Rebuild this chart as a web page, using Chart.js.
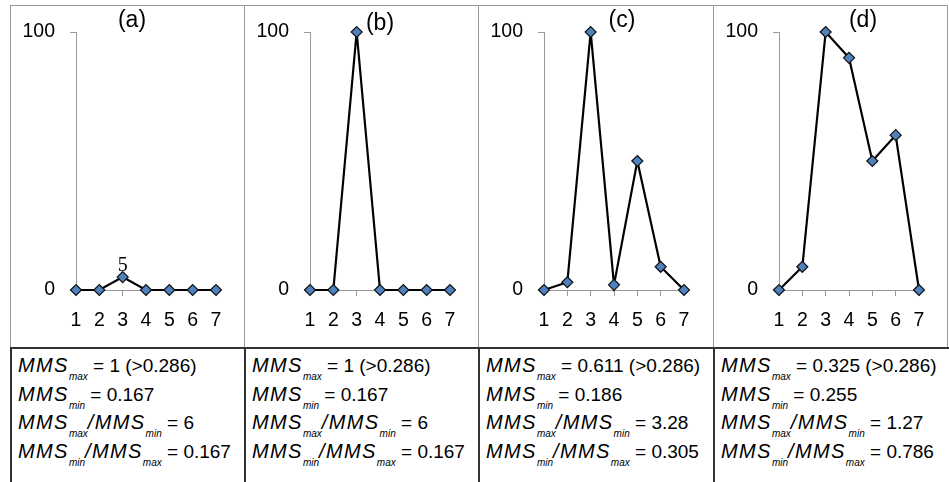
<!DOCTYPE html>
<html>
<head>
<meta charset="utf-8">
<script src="https://cdn.jsdelivr.net/npm/chart.js@4.4.1/dist/chart.umd.min.js"></script>
<style>
  html, body { margin: 0; padding: 0; background: #fff; }
  body { width: 949px; height: 482px; position: relative; overflow: hidden;
         font-family: "Liberation Sans", Arial, sans-serif; color: #000; }
  .panel { position: absolute; top: 5px; width: 234px; height: 343px; }
  .panel canvas { position: absolute; left: 0; top: 0; }
  .rule { position: absolute; z-index: 5; }
  .stats { position: absolute; top: 348px; width: 234px; height: 134px;
           font-size: 19px; line-height: 28.5px; }
  .stats .txt { position: absolute; top: 4px; left: 8px; white-space: nowrap; }
  .mms { font-style: italic; font-size: 20px; letter-spacing: 1.4px; line-height: 0; }
  .sub { font-size: 10px; font-style: italic; position: relative; top: 8px; line-height: 0; }
</style>
</head>
<body>
<script>
// x categories and the four profiles (a)-(d)
const categories = ['1', '2', '3', '4', '5', '6', '7'];
const panelNames = ['(a)', '(b)', '(c)', '(d)'];
const seriesA = [0, 0, 5, 0, 0, 0, 0];
const seriesB = [0, 0, 100, 0, 0, 0, 0];
const seriesC = [0, 3, 100, 2, 50, 9, 0];
const seriesD = [0, 9, 100, 90, 50, 60, 0];
const yTicks = [0, 100];
// points whose value is printed above the marker, per panel
const labelledPoints = [[2], [], [], []];

// statistics printed under each panel
const mmsThreshold = '0.286';
const mmsMax = ['1', '1', '0.611', '0.325'];
const mmsMin = ['0.167', '0.167', '0.186', '0.255'];
const ratioMaxMin = ['6', '6', '3.28', '1.27'];
const ratioMinMax = ['0.167', '0.167', '0.305', '0.786'];

// page layout
const panelLefts = [10, 244, 478, 713];
const panelWidth = 234, panelHeight = 343;
const titlePos = [[122, 16], [136, 19], [144, 16], [150, 16]];
const FONT = '"Liberation Sans", Arial, sans-serif';

const allSeries = [seriesA, seriesB, seriesC, seriesD];

function addRule(x, y, w, h, color) {
  const d = document.createElement('div');
  d.className = 'rule';
  d.style.left = x + 'px'; d.style.top = y + 'px';
  d.style.width = w + 'px'; d.style.height = h + 'px';
  d.style.background = color;
  document.body.appendChild(d);
}

// panel title and value labels
const panelDecor = {
  id: 'panelDecor',
  afterDatasetsDraw(chart, args, opts) {
    const ctx = chart.ctx;
    ctx.save();
    ctx.fillStyle = '#000';
    ctx.font = '23px ' + FONT;
    ctx.textAlign = 'center';
    ctx.textBaseline = 'middle';
    ctx.fillText(opts.title, opts.titleX, opts.titleY);
    const meta = chart.getDatasetMeta(0);
    const values = chart.data.datasets[0].data;
    ctx.font = '20px "Liberation Serif", "Times New Roman", serif';
    ctx.textBaseline = 'alphabetic';
    opts.labelled.forEach(i => {
      const pt = meta.data[i];
      ctx.fillText(String(values[i]), pt.x, pt.y - 6);
    });
    ctx.restore();
  }
};

allSeries.forEach((values, p) => {
  const wrap = document.createElement('div');
  wrap.className = 'panel';
  wrap.style.left = panelLefts[p] + 'px';
  const cv = document.createElement('canvas');
  cv.width = panelWidth; cv.height = panelHeight;
  cv.style.width = panelWidth + 'px'; cv.style.height = panelHeight + 'px';
  wrap.appendChild(cv);
  document.body.appendChild(wrap);

  new Chart(cv, {
    type: 'line',
    data: {
      labels: categories,
      datasets: [{
        data: values,
        borderColor: '#000',
        borderWidth: 2.2,
        tension: 0,
        fill: false,
        clip: false,
        pointStyle: 'rectRot',
        pointRadius: 5.5,
        pointHoverRadius: 5.5,
        pointBackgroundColor: '#4F81BD',
        pointBorderColor: '#111',
        pointBorderWidth: 1.2
      }]
    },
    options: {
      responsive: false,
      animation: false,
      devicePixelRatio: 1,
      events: [],
      layout: { padding: { left: 0, top: 27, right: 28, bottom: 0 } },
      plugins: {
        legend: { display: false },
        tooltip: { enabled: false },
        title: { display: false },
        panelDecor: {
          title: panelNames[p],
          titleX: titlePos[p][0],
          titleY: titlePos[p][1],
          labelled: labelledPoints[p]
        }
      },
      scales: {
        x: {
          type: 'category',
          offset: false,
          grid: { display: true, drawOnChartArea: false, drawTicks: true, tickLength: 6, color: '#999', offset: false },
          border: { display: true, color: '#999', width: 1 },
          ticks: { color: '#000', font: { family: FONT, size: 19.5 }, padding: 13, maxRotation: 0, autoSkip: false },
          afterFit(scale) { scale.height = 58; }
        },
        y: {
          min: 0,
          max: 100,
          afterBuildTicks(scale) { scale.ticks = yTicks.map(v => ({ value: v })); },
          grid: { display: true, drawOnChartArea: false, drawTicks: true, tickLength: 6, color: '#999' },
          border: { display: true, color: '#999', width: 1 },
          ticks: { color: '#000', font: { family: FONT, size: 19.5 }, padding: 15 },
          afterFit(scale) { scale.width = 66; }
        }
      }
    },
    plugins: [panelDecor]
  });

  // statistics block
  const st = document.createElement('div');
  st.className = 'stats';
  st.style.left = panelLefts[p] + 'px';
  const sub = t => '<span class="sub">' + t + '</span>';
  const mms = t => '<span class="mms">' + t + '</span>';
  st.innerHTML = '<div class="txt">' +
    '<div>' + mms('MMS') + sub('max') + ' = ' + mmsMax[p] + ' (&gt;' + mmsThreshold + ')</div>' +
    '<div>' + mms('MMS') + sub('min') + ' = ' + mmsMin[p] + '</div>' +
    '<div>' + mms('MMS') + sub('max') + mms('/MMS') + sub('min') + ' = ' + ratioMaxMin[p] + '</div>' +
    '<div>' + mms('MMS') + sub('min') + mms('/MMS') + sub('max') + ' = ' + ratioMinMax[p] + '</div>' +
    '</div>';
  document.body.appendChild(st);
});

// frame: light rules round the plots, dark rules round the statistics
addRule(10, 5, 938, 1, '#9a9a9a');
[10, 244, 478, 713, 947].forEach(x => addRule(x, 5, 1, 343, '#9a9a9a'));
addRule(10, 347, 939, 2, '#333');
[10, 244, 478, 713].forEach(x => addRule(x, 348, 2, 134, '#333'));
</script>
</body>
</html>
